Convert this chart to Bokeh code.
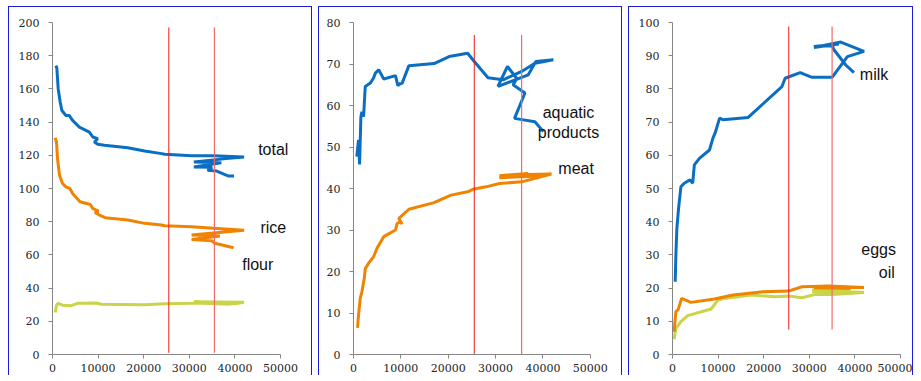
from bokeh.plotting import figure
from bokeh.layouts import row, column
from bokeh.models import Range1d, FixedTicker, NumeralTickFormatter, Label, Spacer
from bokeh.embed import file_html
from bokeh.resources import INLINE

# ---------------- data ----------------
x_ticks = [0, 10000, 20000, 30000, 40000, 50000]

# panel 1: grain
total_x = [735, 955, 1250, 1690, 2060, 2940, 3680, 4400, 5880, 8090, 8820, 9920, 9190, 9920, 11400,
           16500, 20200, 23900, 24600, 30500, 35300, 42000, 38000, 31000, 37000, 31000, 35000, 34000,
           36000, 38600, 39800]
total_y = [174, 172.5, 160, 152, 147, 144, 144, 141, 137, 134, 131, 130, 128, 126.6, 126,
           124.6, 122.6, 121, 120.6, 119.8, 119.8, 119, 118, 116, 115.5, 113, 112.8, 111,
           110.5, 107.5, 107.5]
rice_x = [590, 880, 1100, 1540, 2200, 2940, 3820, 4400, 6030, 8300, 8820, 10070, 9330, 10290, 11540,
          16500, 20200, 23900, 24600, 30500, 35300, 42000, 37100, 30500, 36700, 30500, 34900, 35600, 39700]
rice_y = [130.6, 128, 118, 108, 103, 101, 100, 97, 92, 90.4, 88, 86.4, 85.6, 84, 82.4,
          81, 79, 78, 77.6, 77, 76, 74.8, 73.6, 72, 71.4, 69.3, 68.5, 67, 64.3]
flour_x = [590, 880, 1250, 2200, 4000, 5500, 9550, 10700, 20200, 24600, 30500, 35500, 42000,
           31000, 39000, 31500, 40000, 42000]
flour_y = [25.3, 29.7, 30.8, 29.7, 29.3, 30.8, 31, 30.3, 30, 30.5, 30.8, 31.2, 31.5,
           31.8, 30.2, 31, 30.6, 31.5]

# panel 2: aquatic products, meat
aq_x = [700, 1060, 1280, 1560, 1770, 2130, 2480, 3550, 4260, 4610, 5320, 6380, 8870, 9360, 9930, 9500,
        10280, 11700, 17000, 20200, 24100, 25500, 28400, 31600, 35500, 38300, 42200, 38500, 36900,
        30500, 32500, 34500, 33700, 36200, 34000, 38300, 40100]
aq_y = [47.7, 51.7, 45.8, 57.3, 58.5, 57.3, 64.6, 65.4, 66.7, 67.8, 68.6, 66.4, 67.2, 64.8, 65.4, 65,
        65.4, 69.6, 70.1, 71.8, 72.6, 70.6, 66.7, 66.2, 68.2, 70.2, 71, 70.6, 67.4,
        64.6, 69.4, 66.5, 65, 63, 56.9, 56.1, 53.7]
meat_x = [850, 1060, 1420, 1770, 2270, 2480, 3190, 4260, 4960, 6380, 8870, 9220, 10000, 10280, 9570,
          11700, 17000, 20600, 24100, 25200, 28000, 30800, 35500, 41800, 36900, 30800, 36900, 30800,
          36900, 41800]
meat_y = [6.4, 9.5, 13.5, 15.1, 18.3, 20.7, 22, 23.6, 25.6, 28.4, 30, 31.6, 32, 31.4, 32.8,
          35, 36.6, 38.4, 39.2, 39.8, 40.4, 41.2, 41.6, 43.5, 43.4, 43.1, 43.6, 42.6, 42.9, 43.5]

# panel 3: milk, eggs, oil
milk_x = [590, 740, 960, 1330, 1840, 2580, 3830, 4430, 4790, 5900, 8110, 8850, 9590, 9300, 10330,
          11060, 16600, 24000, 24700, 28000, 30600, 35000, 38350, 42000, 36900, 31000, 36500, 31000,
          35000, 35400, 38000, 39800]
milk_y = [21.9, 30, 38, 44, 50.5, 51.6, 52.6, 51.6, 57.1, 59.1, 61.6, 65.1, 67.6, 66.5, 71.2,
          70.7, 71.4, 80.7, 83.2, 84.9, 83.5, 83.5, 89.7, 91.3, 94.1, 92.5, 93.5, 92.8,
          93, 91.8, 87.2, 84.9]
eggs_x = [350, 730, 1240, 1990, 4050, 9200, 13280, 19900, 25440, 28400, 34300, 42000,
          31000, 39100, 31500, 42000]
eggs_y = [6.8, 12.9, 13.5, 16.9, 15.7, 16.7, 17.9, 18.9, 19.1, 20.4, 20.6, 20.2,
          20.1, 19.9, 20.4, 20.2]
oil_x = [350, 730, 1840, 3320, 8470, 9960, 11400, 17300, 22500, 25440, 28400, 31300, 35000, 42000,
         30600, 39000, 30600, 40200, 42000]
oil_y = [4.6, 7.8, 9.9, 11.7, 13.7, 16.4, 16.9, 17.9, 17.4, 17.6, 17.1, 18.1, 18.1, 18.7,
         19.4, 19.6, 19, 18.6, 18.7]

# reference lines (x positions, y extent) per panel
p1_vx = [25500, 35500]; p1_vy = [1, 197]
p2_vx = [25500, 35500]; p2_vy = [0, 77]
p3_vx = [25500, 35000]; p3_vy = [7.5, 98.8]

# labels
p1_labels = ["total", "rice", "flour"]
p1_lx = [48400, 48400, 45000]
p1_ly = [123.4, 76.8, 54.1]
p2_labels = ["aquatic", "products", "meat"]
p2_lx = [45400, 45400, 47000]
p2_ly = [58.3, 53.5, 44.8]
p3_labels = ["milk", "eggs", "oil"]
p3_lx = [44200, 45200, 47000]
p3_ly = [84.3, 31.6, 24.7]

# ---------------- style ----------------
BLUE = "#0a6fc2"
ORANGE = "#f08300"
LIME = "#c9d449"
RED1 = "#ee1c1c"
RED2 = "#f06a6a"
FRAME = "#1c1cd8"
AXIS = "#868686"
SANS = "Liberation Sans"
SERIF = "DejaVu Serif"
H = 369


def make_fig(width, ymax, ystep, left, right, xend):
    p = figure(width=width, height=H, x_range=Range1d(0, xend), y_range=Range1d(0, ymax),
               output_backend="svg", toolbar_location=None,
               min_border_left=left, min_border_right=right, min_border_top=15, min_border_bottom=22)
    p.xgrid.visible = False
    p.ygrid.visible = False
    p.outline_line_color = None
    p.styles = {"border-top": f"1px solid {FRAME}", "border-left": f"1px solid {FRAME}",
                "border-right": f"1px solid {FRAME}"}
    p.xaxis.ticker = FixedTicker(ticks=x_ticks)
    p.xaxis.bounds = (0, 50000)
    p.yaxis.ticker = FixedTicker(ticks=list(range(0, ymax + 1, ystep)))
    p.xaxis.formatter = NumeralTickFormatter(format="0")
    for ax in (p.xaxis[0], p.yaxis[0]):
        ax.axis_line_color = AXIS
        ax.major_tick_line_color = AXIS
        ax.minor_tick_line_color = None
        ax.major_tick_out = 4
        ax.major_tick_in = 0
        ax.major_label_text_font = SERIF
        ax.major_label_text_font_size = "11px"
        ax.major_label_text_color = "#262626"
    p.xaxis.major_label_standoff = 5
    p.yaxis.major_label_standoff = 9
    return p


def add_labels(p, labels, xs, ys):
    for t, x, y in zip(labels, xs, ys):
        p.add_layout(Label(x=x, y=y, text=t, text_align="center", text_baseline="middle",
                           text_font=SANS, text_font_size="16px", text_color="#111111"))


def add_vlines(p, xs, ys):
    p.segment(x0=xs[0], y0=ys[0], x1=xs[0], y1=ys[1], line_color=RED1, line_width=1)
    p.segment(x0=xs[1], y0=ys[0], x1=xs[1], y1=ys[1], line_color=RED2, line_width=1.2)


LW = 3

# frame extends past 50000 (axis bounded at 50000) so that the right-hand labels are not clipped
p1 = make_fig(304, 200, 20, 43, 1, 57000)
p1.line(flour_x, flour_y, line_color=LIME, line_width=LW)
p1.line(rice_x, rice_y, line_color=ORANGE, line_width=LW)
p1.line(total_x, total_y, line_color=BLUE, line_width=LW)
add_vlines(p1, p1_vx, p1_vy)
add_labels(p1, p1_labels, p1_lx, p1_ly)

p2 = make_fig(304, 80, 10, 34, 1, 56800)
p2.line(meat_x, meat_y, line_color=ORANGE, line_width=LW)
p2.line(aq_x, aq_y, line_color=BLUE, line_width=LW)
add_vlines(p2, p2_vx, p2_vy)
add_labels(p2, p2_labels, p2_lx, p2_ly)

p3 = make_fig(285, 100, 10, 43, 14, 50000)
p3.line(oil_x, oil_y, line_color=LIME, line_width=LW)
p3.line(eggs_x, eggs_y, line_color=ORANGE, line_width=LW)
p3.line(milk_x, milk_y, line_color=BLUE, line_width=LW)
add_vlines(p3, p3_vx, p3_vy)
add_labels(p3, p3_labels, p3_lx, p3_ly)

layout = column(Spacer(height=0, width=10),
                row(Spacer(width=2, height=10), p1, p2, p3, spacing=6),
                spacing=6)

open("out.html", "w").write(file_html(layout, INLINE))
